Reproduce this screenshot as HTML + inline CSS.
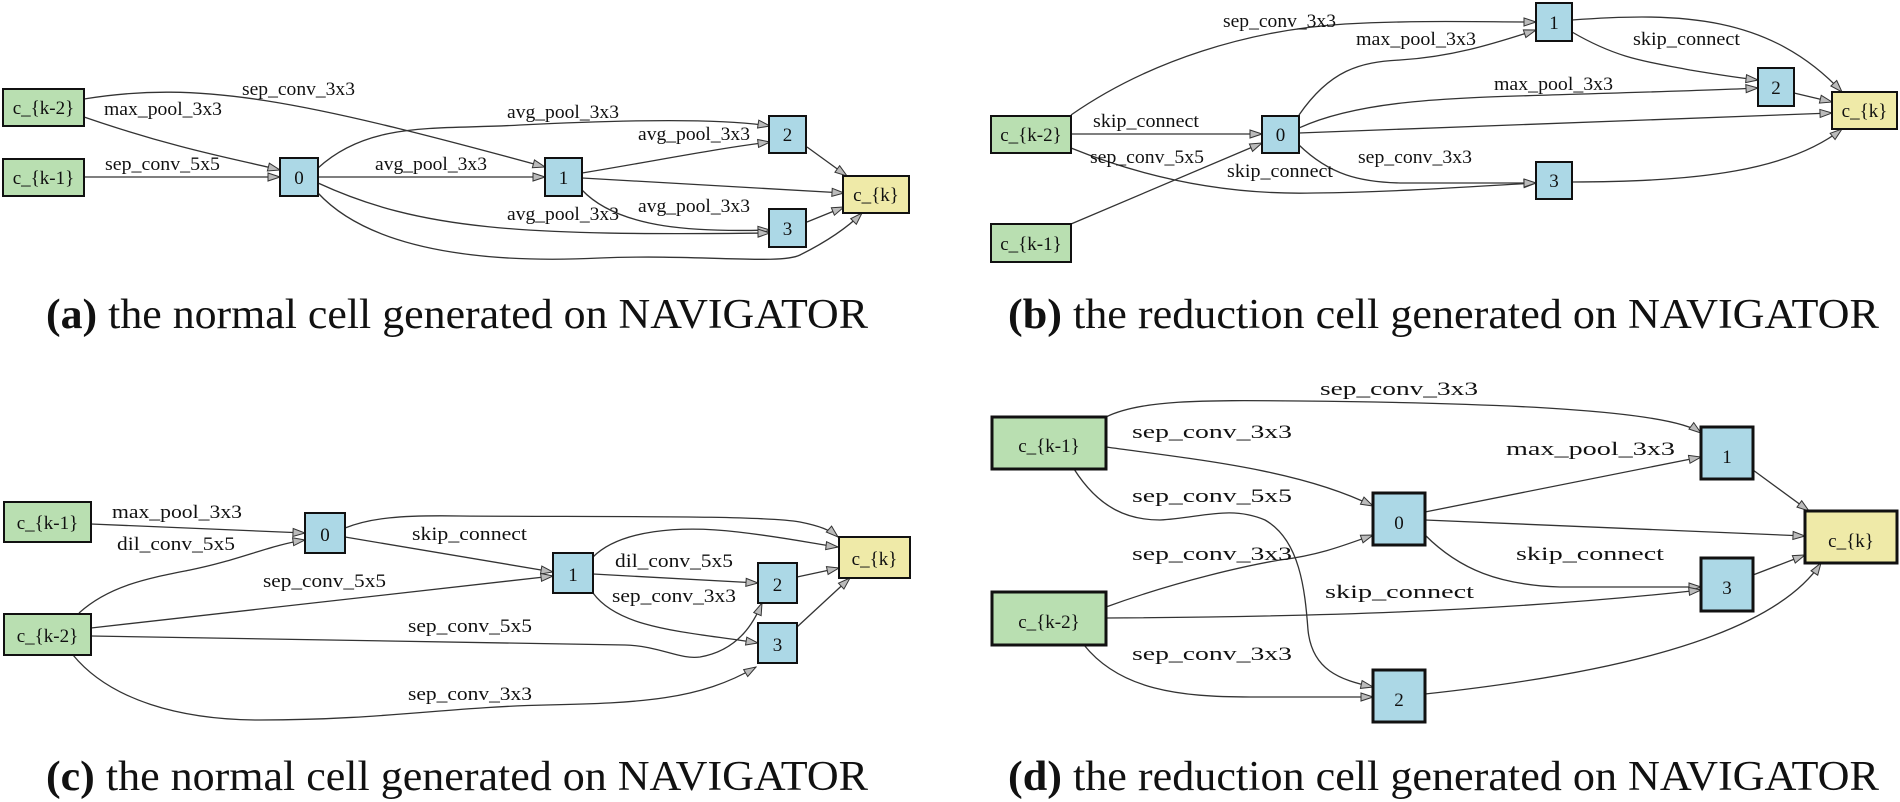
<!DOCTYPE html>
<html><head><meta charset="utf-8"><style>
html,body{margin:0;padding:0;background:#fff;}
svg{display:block;}
.e{fill:none;stroke:#333;stroke-width:1.3;marker-end:url(#ah);}
.g{fill:#b9dfb1;stroke:#111;stroke-width:2;}
.b{fill:#acd8e6;stroke:#111;stroke-width:2;}
.y{fill:#efeaa8;stroke:#111;stroke-width:2;}
text{font-family:"Liberation Serif",serif;fill:#111;}
.l{font-size:19px;}
.n{font-size:19px;text-anchor:middle;}
.c{font-size:42px;}
</style></head><body>
<svg width="1900" height="802" viewBox="0 0 1900 802" xmlns="http://www.w3.org/2000/svg">
<defs>
<marker id="ah" markerWidth="14" markerHeight="10" refX="13" refY="5" orient="auto" markerUnits="userSpaceOnUse">
<path d="M1,1 L13,5 L1,9 Z" fill="#bbb" stroke="#333" stroke-width="1"/>
</marker>
</defs>

<!-- Panel A -->
<path class="e" d="M84,99 C200,80 300,100 545,167"/>
<path class="e" d="M84,117 C180,150 240,160 280,170"/>
<path class="e" d="M84,177 L280,177"/>
<path class="e" d="M318,168 C370,120 440,130 520,125 C620,120 720,118 770,126"/>
<path class="e" d="M318,177 L545,177"/>
<path class="e" d="M582,173 C660,160 720,148 770,142"/>
<path class="e" d="M582,178 L844,193"/>
<path class="e" d="M582,190 C620,230 700,232 770,230"/>
<path class="e" d="M318,183 C420,230 520,236 770,233"/>
<path class="e" d="M318,193 C380,260 520,262 600,258 C700,254 780,265 800,255 C830,240 850,225 862,213"/>
<path class="e" d="M807,147 L847,176"/>
<path class="e" d="M807,222 L844,207"/>
<rect class="g" x="3" y="89" width="81" height="37"/><text class="n" x="43.5" y="114">c_{k-2}</text>
<rect class="g" x="3" y="159" width="81" height="37"/><text class="n" x="43.5" y="184">c_{k-1}</text>
<rect class="b" x="280" y="158" width="38" height="38"/><text class="n" x="299" y="184">0</text>
<rect class="b" x="545" y="158" width="37" height="38"/><text class="n" x="563.5" y="184">1</text>
<rect class="b" x="769" y="116" width="37" height="37"/><text class="n" x="787.5" y="141">2</text>
<rect class="b" x="769" y="209" width="37" height="38"/><text class="n" x="787.5" y="235">3</text>
<rect class="y" x="843" y="176" width="66" height="37"/><text class="n" x="876" y="201">c_{k}</text>
<text class="l" x="242" y="95" textLength="113" lengthAdjust="spacingAndGlyphs">sep_conv_3x3</text>
<text class="l" x="104" y="115" textLength="118" lengthAdjust="spacingAndGlyphs">max_pool_3x3</text>
<text class="l" x="105" y="170" textLength="115" lengthAdjust="spacingAndGlyphs">sep_conv_5x5</text>
<text class="l" x="507" y="118" textLength="112" lengthAdjust="spacingAndGlyphs">avg_pool_3x3</text>
<text class="l" x="375" y="170" textLength="112" lengthAdjust="spacingAndGlyphs">avg_pool_3x3</text>
<text class="l" x="638" y="140" textLength="112" lengthAdjust="spacingAndGlyphs">avg_pool_3x3</text>
<text class="l" x="638" y="212" textLength="112" lengthAdjust="spacingAndGlyphs">avg_pool_3x3</text>
<text class="l" x="507" y="220" textLength="112" lengthAdjust="spacingAndGlyphs">avg_pool_3x3</text>
<text class="c" x="46" y="328" textLength="822" lengthAdjust="spacingAndGlyphs"><tspan font-weight="bold">(a)</tspan> the normal cell generated on NAVIGATOR</text>

<!-- Panel B -->
<path class="e" d="M1071,115 C1150,60 1250,30 1345,24 C1420,20 1480,22 1536,22"/>
<path class="e" d="M1299,115 C1330,70 1360,62 1400,60 C1450,57 1490,45 1536,30"/>
<path class="e" d="M1071,134 L1262,134"/>
<path class="e" d="M1071,148 C1150,180 1230,195 1314,193 C1400,192 1480,186 1536,183"/>
<path class="e" d="M1071,224 L1262,143"/>
<path class="e" d="M1299,128 C1360,100 1450,98 1550,95 C1650,92 1720,90 1758,88"/>
<path class="e" d="M1299,133 L1832,113"/>
<path class="e" d="M1299,145 C1330,175 1360,182 1400,183 L1536,183"/>
<path class="e" d="M1572,32 C1620,60 1650,62 1690,70 C1720,75 1740,78 1758,80"/>
<path class="e" d="M1572,20 C1680,12 1770,15 1842,92"/>
<path class="e" d="M1794,93 L1832,102"/>
<path class="e" d="M1572,182 C1700,182 1790,170 1842,129"/>
<rect class="b" x="1536" y="3" width="36" height="38"/><text class="n" x="1554" y="29">1</text>
<rect class="b" x="1758" y="68" width="36" height="38"/><text class="n" x="1776" y="94">2</text>
<rect class="y" x="1832" y="92" width="65" height="37"/><text class="n" x="1864.5" y="117">c_{k}</text>
<rect class="g" x="991" y="116" width="80" height="37"/><text class="n" x="1031" y="141">c_{k-2}</text>
<rect class="b" x="1262" y="116" width="37" height="37"/><text class="n" x="1280.5" y="141">0</text>
<rect class="b" x="1536" y="162" width="36" height="37"/><text class="n" x="1554" y="187">3</text>
<rect class="g" x="991" y="224" width="80" height="38"/><text class="n" x="1031" y="250">c_{k-1}</text>
<text class="l" x="1223" y="27" textLength="113" lengthAdjust="spacingAndGlyphs">sep_conv_3x3</text>
<text class="l" x="1356" y="45" textLength="120" lengthAdjust="spacingAndGlyphs">max_pool_3x3</text>
<text class="l" x="1093" y="127" textLength="106" lengthAdjust="spacingAndGlyphs">skip_connect</text>
<text class="l" x="1090" y="163" textLength="114" lengthAdjust="spacingAndGlyphs">sep_conv_5x5</text>
<text class="l" x="1227" y="177" textLength="106" lengthAdjust="spacingAndGlyphs">skip_connect</text>
<text class="l" x="1494" y="90" textLength="119" lengthAdjust="spacingAndGlyphs">max_pool_3x3</text>
<text class="l" x="1358" y="163" textLength="114" lengthAdjust="spacingAndGlyphs">sep_conv_3x3</text>
<text class="l" x="1633" y="45" textLength="107" lengthAdjust="spacingAndGlyphs">skip_connect</text>
<text class="c" x="1008" y="328" textLength="871" lengthAdjust="spacingAndGlyphs"><tspan font-weight="bold">(b)</tspan> the reduction cell generated on NAVIGATOR</text>

<!-- Panel C -->
<path class="e" d="M91,524 L305,533"/>
<path class="e" d="M79,613 C110,585 150,578 190,570 C240,560 270,545 305,540"/>
<path class="e" d="M345,528 C370,518 400,515 460,516 C600,517 760,515 800,522 C820,526 830,530 838,537"/>
<path class="e" d="M345,537 L553,572"/>
<path class="e" d="M91,628 L553,576"/>
<path class="e" d="M593,557 C620,530 680,525 738,532 C790,538 820,545 838,547"/>
<path class="e" d="M593,574 L758,583"/>
<path class="e" d="M593,593 C620,630 690,632 758,643"/>
<path class="e" d="M91,636 C300,640 500,643 625,645 C660,646 680,660 700,657 C740,650 755,620 762,603"/>
<path class="e" d="M73,655 C110,700 180,720 260,720 C380,720 450,707 546,705 C640,703 700,700 756,667"/>
<path class="e" d="M797,577 L839,568"/>
<path class="e" d="M797,627 L850,578"/>
<rect class="g" x="4" y="502" width="87" height="40"/><text class="n" x="47.5" y="529" font-size="21">c_{k-1}</text>
<rect class="g" x="4" y="614" width="87" height="41"/><text class="n" x="47.5" y="642" font-size="21">c_{k-2}</text>
<rect class="b" x="305" y="513" width="40" height="40"/><text class="n" x="325" y="541" font-size="21">0</text>
<rect class="b" x="553" y="553" width="40" height="40"/><text class="n" x="573" y="581" font-size="21">1</text>
<rect class="b" x="758" y="563" width="39" height="40"/><text class="n" x="777.5" y="591" font-size="21">2</text>
<rect class="b" x="758" y="623" width="39" height="40"/><text class="n" x="777.5" y="651" font-size="21">3</text>
<rect class="y" x="839" y="537" width="71" height="41"/><text class="n" x="874.5" y="565" font-size="21">c_{k}</text>
<text class="l" x="112" y="518" font-size="21" textLength="130" lengthAdjust="spacingAndGlyphs">max_pool_3x3</text>
<text class="l" x="117" y="550" font-size="21" textLength="118" lengthAdjust="spacingAndGlyphs">dil_conv_5x5</text>
<text class="l" x="412" y="540" font-size="21" textLength="115" lengthAdjust="spacingAndGlyphs">skip_connect</text>
<text class="l" x="263" y="587" font-size="21" textLength="123" lengthAdjust="spacingAndGlyphs">sep_conv_5x5</text>
<text class="l" x="615" y="567" font-size="21" textLength="118" lengthAdjust="spacingAndGlyphs">dil_conv_5x5</text>
<text class="l" x="612" y="602" font-size="21" textLength="124" lengthAdjust="spacingAndGlyphs">sep_conv_3x3</text>
<text class="l" x="408" y="632" font-size="21" textLength="124" lengthAdjust="spacingAndGlyphs">sep_conv_5x5</text>
<text class="l" x="408" y="700" font-size="21" textLength="124" lengthAdjust="spacingAndGlyphs">sep_conv_3x3</text>
<text class="c" x="46" y="790" textLength="822" lengthAdjust="spacingAndGlyphs"><tspan font-weight="bold">(c)</tspan> the normal cell generated on NAVIGATOR</text>

<!-- Panel D -->
<path class="e" d="M1106,417 C1140,400 1200,400 1300,401 C1500,403 1670,410 1701,433"/>
<path class="e" d="M1106,447 C1200,460 1300,470 1373,506"/>
<path class="e" d="M1074,469 C1100,510 1130,520 1160,520 C1200,518 1230,505 1265,520 C1300,540 1305,590 1308,630 C1312,670 1340,680 1373,687"/>
<path class="e" d="M1425,512 L1701,457"/>
<path class="e" d="M1425,520 L1805,536"/>
<path class="e" d="M1106,607 C1180,580 1250,565 1280,560 C1320,555 1345,545 1373,535"/>
<path class="e" d="M1425,535 C1460,570 1500,585 1560,587 L1701,587"/>
<path class="e" d="M1106,618 C1300,617 1500,612 1701,590"/>
<path class="e" d="M1084,645 C1120,690 1180,697 1250,697 L1373,697"/>
<path class="e" d="M1425,694 C1600,675 1770,640 1821,563"/>
<path class="e" d="M1753,470 L1809,511"/>
<path class="e" d="M1753,575 L1805,555"/>
<rect class="g" x="992" y="417" width="114" height="52" style="stroke-width:3"/><text class="n" x="1049" y="452" font-size="28">c_{k-1}</text>
<rect class="g" x="992" y="592" width="114" height="53" style="stroke-width:3"/><text class="n" x="1049" y="628" font-size="28">c_{k-2}</text>
<rect class="b" x="1373" y="493" width="52" height="52" style="stroke-width:3"/><text class="n" x="1399" y="529" font-size="28">0</text>
<rect class="b" x="1701" y="427" width="52" height="52" style="stroke-width:3"/><text class="n" x="1727" y="463" font-size="28">1</text>
<rect class="b" x="1701" y="558" width="52" height="53" style="stroke-width:3"/><text class="n" x="1727" y="594" font-size="28">3</text>
<rect class="b" x="1373" y="670" width="52" height="52" style="stroke-width:3"/><text class="n" x="1399" y="706" font-size="28">2</text>
<rect class="y" x="1805" y="511" width="92" height="52" style="stroke-width:3"/><text class="n" x="1851" y="547" font-size="28">c_{k}</text>
<text class="l" x="1320" y="395" font-size="26" textLength="158" lengthAdjust="spacingAndGlyphs">sep_conv_3x3</text>
<text class="l" x="1132" y="438" font-size="26" textLength="160" lengthAdjust="spacingAndGlyphs">sep_conv_3x3</text>
<text class="l" x="1132" y="502" font-size="26" textLength="160" lengthAdjust="spacingAndGlyphs">sep_conv_5x5</text>
<text class="l" x="1506" y="455" font-size="26" textLength="169" lengthAdjust="spacingAndGlyphs">max_pool_3x3</text>
<text class="l" x="1132" y="560" font-size="26" textLength="160" lengthAdjust="spacingAndGlyphs">sep_conv_3x3</text>
<text class="l" x="1516" y="560" font-size="26" textLength="148" lengthAdjust="spacingAndGlyphs">skip_connect</text>
<text class="l" x="1325" y="598" font-size="26" textLength="149" lengthAdjust="spacingAndGlyphs">skip_connect</text>
<text class="l" x="1132" y="660" font-size="26" textLength="160" lengthAdjust="spacingAndGlyphs">sep_conv_3x3</text>
<text class="c" x="1008" y="790" textLength="871" lengthAdjust="spacingAndGlyphs"><tspan font-weight="bold">(d)</tspan> the reduction cell generated on NAVIGATOR</text>
</svg>
</body></html>
